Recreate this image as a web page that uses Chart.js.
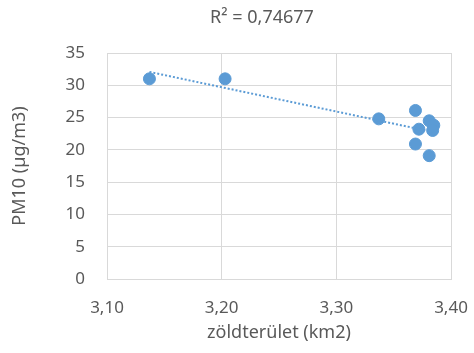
<!DOCTYPE html>
<html>
<head>
<meta charset="utf-8">
<script src="https://cdn.jsdelivr.net/npm/chart.js@4.4.1/dist/chart.umd.min.js"></script>
<style>
  html, body { margin: 0; padding: 0; background: #fff; }
  #wrap { width: 474px; height: 353px; }
</style>
</head>
<body>
<div id="wrap"><canvas id="chart" width="474" height="353"></canvas></div>
<script>
// green area (km2) vs PM10 (µg/m3)
var greenArea = [3.137, 3.203, 3.337, 3.369, 3.381, 3.385, 3.372, 3.384, 3.369, 3.381];
var pm10 = [31.0, 31.0, 24.8, 26.1, 24.5, 23.8, 23.2, 23.0, 20.9, 19.1];
var xTicks = [3.10, 3.20, 3.30, 3.40];
var yTicks = [0, 5, 10, 15, 20, 25, 30, 35];
var rSquaredLabel = 'R² = 0,74677';

var blue = '#5B9BD5';
var textColor = '#595959';
var gridColor = '#D9D9D9';
var fontFamily = '"Noto Sans", "Liberation Sans", sans-serif';

// least squares fit for the trendline
function linearFit(xs, ys) {
	var n = xs.length, sx = 0, sy = 0, sxx = 0, sxy = 0;
	for (var i = 0; i < n; i++) {
		sx += xs[i]; sy += ys[i];
		sxx += xs[i] * xs[i]; sxy += xs[i] * ys[i];
	}
	var slope = (n * sxy - sx * sy) / (n * sxx - sx * sx);
	var intercept = (sy - slope * sx) / n;
	return { slope: slope, intercept: intercept };
}

var fit = linearFit(greenArea, pm10);
var xMin = Math.min.apply(null, greenArea);
var xMax = Math.max.apply(null, greenArea);
var trend = [
	{ x: xMin, y: fit.slope * xMin + fit.intercept },
	{ x: xMax, y: fit.slope * xMax + fit.intercept }
];

var points = greenArea.map(function(x, i) { return { x: x, y: pm10[i] }; });

// title text drawn above the plot, like Excel's trendline label
var titlePlugin = {
	id: 'rTitle',
	afterDraw: function(chart) {
		var ctx = chart.ctx;
		ctx.save();
		ctx.font = '18px ' + fontFamily;
		ctx.fillStyle = textColor;
		ctx.textAlign = 'center';
		ctx.textBaseline = 'middle';
		ctx.fillText(rSquaredLabel, 262, 18);
		ctx.restore();
	}
};

new Chart(document.getElementById('chart').getContext('2d'), {
	type: 'scatter',
	data: {
		datasets: [{
			label: 'PM10',
			data: points,
			backgroundColor: blue,
			borderColor: blue,
			pointRadius: 6,
			pointHoverRadius: 6,
			order: 1
		}, {
			type: 'line',
			label: 'trend',
			data: trend,
			borderColor: blue,
			borderWidth: 2,
			borderDash: [2, 2],
			pointRadius: 0,
			fill: false,
			order: 0
		}]
	},
	options: {
		responsive: false,
		animation: false,
		layout: { padding: { top: 53, right: 23, left: 0, bottom: 0 } },
		plugins: {
			legend: { display: false },
			tooltip: { enabled: false }
		},
		scales: {
			x: {
				type: 'linear',
				min: 3.10,
				max: 3.40,
				afterBuildTicks: function(scale) {
					scale.ticks = xTicks.map(function(v) { return { value: v }; });
				},
				afterFit: function(scale) {
					scale.height = 74;
					// let the layout padding decide the plot edges
					scale.paddingLeft = 0;
					scale.paddingRight = 0;
				},
				ticks: {
					color: textColor,
					font: { family: fontFamily, size: 17 },
					padding: 19,
					maxRotation: 0,
					callback: function(v) { return v.toFixed(2).replace('.', ','); }
				},
				grid: { color: gridColor, lineWidth: 1, drawTicks: false },
				border: { color: gridColor },
				title: {
					display: true,
					text: 'zöldterület (km2)',
					color: textColor,
					font: { family: fontFamily, size: 18 },
					padding: { top: 0, bottom: 9 }
				}
			},
			y: {
				min: 0,
				max: 35,
				afterBuildTicks: function(scale) {
					scale.ticks = yTicks.map(function(v) { return { value: v }; });
				},
				afterFit: function(scale) {
					scale.width = 107;
					scale.paddingTop = 0;
					scale.paddingBottom = 0;
				},
				ticks: {
					color: textColor,
					font: { family: fontFamily, size: 17 },
					padding: 22
				},
				grid: { color: gridColor, lineWidth: 1, drawTicks: false },
				border: { color: gridColor },
				title: {
					display: true,
					text: 'PM10 (µg/m3)',
					color: textColor,
					font: { family: fontFamily, size: 18 },
					padding: { top: 9, bottom: 0 }
				}
			}
		}
	},
	plugins: [titlePlugin]
});
</script>
</body>
</html>
